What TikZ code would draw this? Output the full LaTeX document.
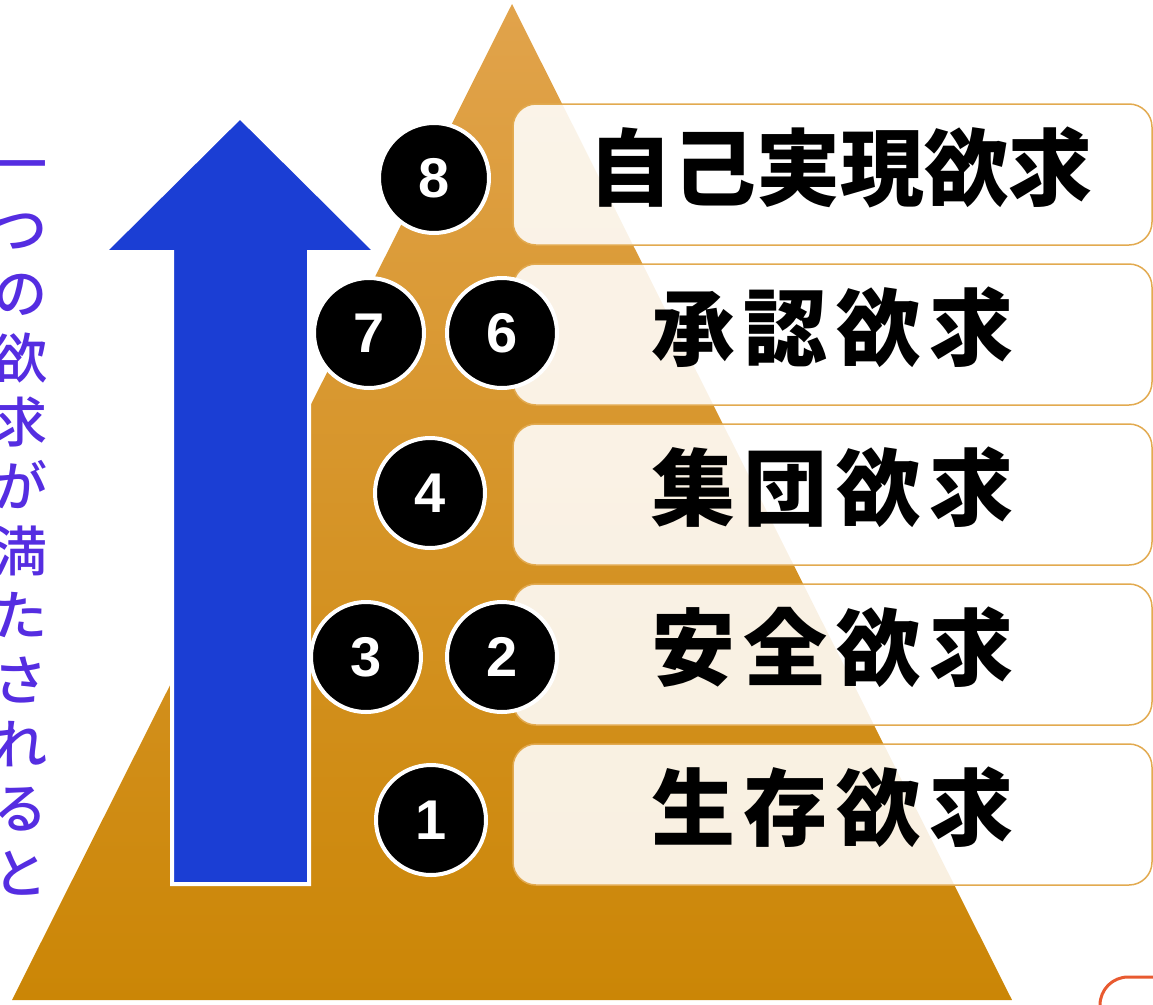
\documentclass[tikz,border=0pt]{standalone}
\usepackage{fontspec}
\newfontfamily\jpfont{Noto Sans CJK JP}
\newfontfamily\jpside{Noto Sans CJK JP Medium}
\newfontfamily\numfont{Liberation Sans}
\usepackage{xcolor}
\usetikzlibrary{positioning}
\definecolor{pyrtop}{RGB}{225,163,75}
\definecolor{pyrbot}{RGB}{203,134,6}
\definecolor{upblue}{RGB}{27,62,212}
\definecolor{sidepurple}{RGB}{85,45,225}
\definecolor{boxline}{RGB}{226,170,80}
\definecolor{cornerred}{RGB}{232,90,48}

\begin{document}
\begin{tikzpicture}[x=1pt,y=-1pt,
levelbox/.style={rectangle,rounded corners=23pt,draw=boxline,line width=1.5pt,
  fill=white,fill opacity=0.88,minimum width=639pt,minimum height=141pt,inner sep=0pt},
leveltext/.style={font=\jpfont\bfseries\fontsize{84}{84}\selectfont,inner sep=0pt},
numdot/.style={circle,fill=black,draw=white,line width=4pt,minimum size=110pt,inner sep=0pt,
  text=white,font=\numfont\bfseries\fontsize{56}{56}\selectfont}]
\useasboundingbox (0,0) rectangle (1153,1004);
\clip (0,0) rectangle (1153,1004);
% pyramid
\shade[top color=pyrtop,bottom color=pyrbot] (512,4) -- (1012,1000) -- (12,1000) -- cycle;
% arrow
\draw[fill=upblue,draw=white,line width=4pt] (172,884) -- (172,252) -- (104,252) -- (240,117)
  -- (376,252) -- (309,252) -- (309,884) -- cycle;
% side text
\node[text=sidepurple,font=\jpside\fontsize{54}{64.4}\selectfont,align=center,inner sep=0pt]
  (side) at (21,528) {一\\つ\\の\\欲\\求\\が\\満\\た\\さ\\れ\\る\\と};
% levels
\node[levelbox] (b5) at (832.5,174.5) {};
\node[levelbox] (b4) at (832.5,334.5) {};
\node[levelbox] (b3) at (832.5,494.5) {};
\node[levelbox] (b2) at (832.5,654.5) {};
\node[levelbox] (b1) at (832.5,814.5) {};
\node[leveltext] (t5) at ([xshift=7.5pt,yshift=7pt]b5.center) {自己実現欲求};
\node[leveltext] (t4) at ([yshift=7pt]b4.center) {承\hspace{9pt}認\hspace{9pt}欲\hspace{9pt}求};
\node[leveltext] (t3) at ([yshift=7pt]b3.center) {集\hspace{9pt}団\hspace{9pt}欲\hspace{9pt}求};
\node[leveltext] (t2) at ([yshift=7pt]b2.center) {安\hspace{9pt}全\hspace{9pt}欲\hspace{9pt}求};
\node[leveltext] (t1) at ([yshift=7pt]b1.center) {生\hspace{9pt}存\hspace{9pt}欲\hspace{9pt}求};
% numbers
\node[numdot] (n8) at (434,178) {8};
\node[numdot] (n7) at (369,333) {7};
\node[numdot] (n6) at (502,333) {6};
\node[numdot] (n4) at (430,493) {4};
\node[numdot] (n3) at (366,657) {3};
\node[numdot] (n2) at (502,657) {2};
\node[numdot] (n1) at (431,820) {1};
% corner frame
\draw[cornerred,line width=3pt,rounded corners=28pt] (1100,977) rectangle (1260,1100);
\end{tikzpicture}
\end{document}
